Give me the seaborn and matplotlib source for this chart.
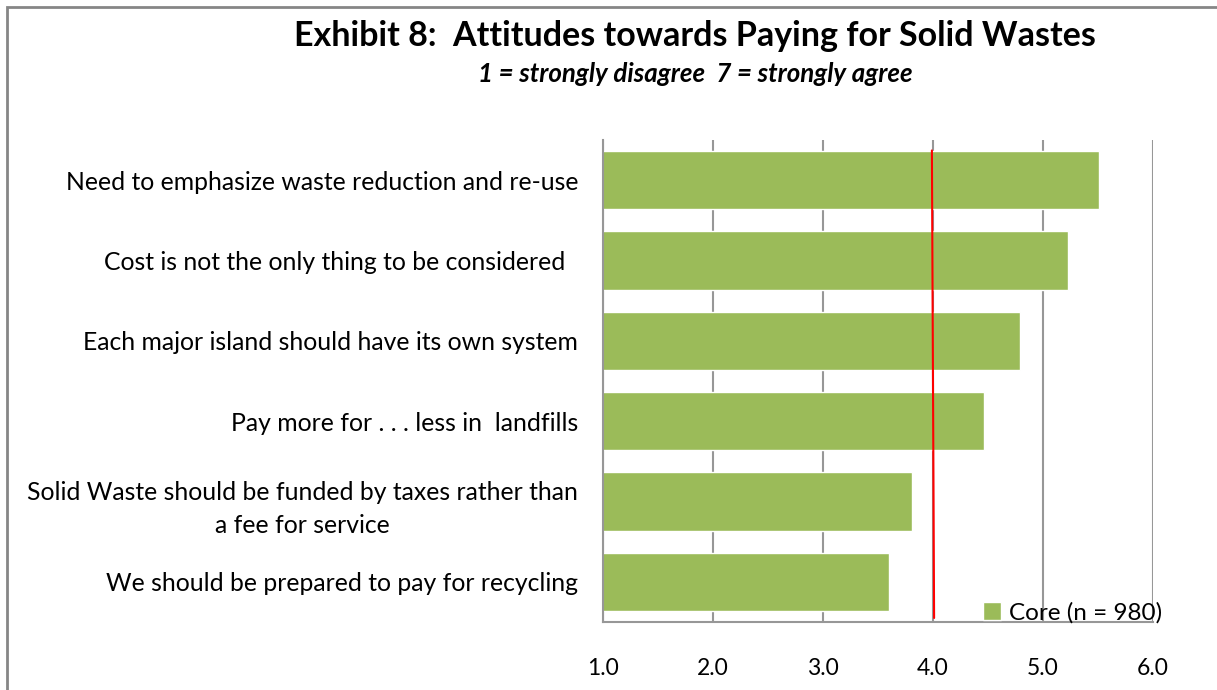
import matplotlib
matplotlib.use("Agg")
import matplotlib.pyplot as plt
import seaborn as sns
import pandas as pd
from matplotlib.patches import Rectangle

categories = [
    "Need to emphasize waste reduction and re-use",
    "Cost is not the only thing to be considered  ",
    "Each major island should have its own system",
    "Pay more for . . . less in  landfills",
    "Solid Waste should be funded by taxes rather than\na fee for service",
    "We should be prepared to pay for recycling",
]
values = [5.51, 5.23, 4.79, 4.46, 3.81, 3.60]
series_label = "Core (n = 980)"
reference_value = 4.0
x_ticks = [1.0, 2.0, 3.0, 4.0, 5.0, 6.0]
title = "Exhibit 8:  Attitudes towards Paying for Solid Wastes"
subtitle = "1 = strongly disagree  7 = strongly agree"

sns.set_theme(style="white")
plt.rcParams["font.family"] = ["Lato", "DejaVu Sans"]
plt.rcParams["text.color"] = "black"

df = pd.DataFrame({"item": categories, "score": values})

fig = plt.figure(figsize=(12.17, 6.9), dpi=100)
ax = fig.add_axes([603/1217, 1-622/690, (1153-603)/1217, (622-140)/690])

sns.barplot(data=df, x="score", y="item", color="#9BBB59", saturation=1,
            width=0.73, ax=ax, label=series_label, orient="h")

ax.set_xlim(1, 6)
ax.set_ylim(5.5, -0.5)
ax.set_xticks(x_ticks)
ax.set_xticklabels([f"{t:.1f}" for t in x_ticks])
ax.xaxis.grid(True, color="#979797", linewidth=1.5)
ax.set_axisbelow(True)
ax.set_xlabel("")
ax.set_ylabel("")
ax.tick_params(axis="x", length=0, pad=26, labelsize=16.5, colors="black")
ax.tick_params(axis="y", length=0, pad=18, labelsize=17.8, colors="black")
for lab in ax.get_yticklabels():
    lab.set_multialignment("center")
    lab.set_linespacing(1.55)

for s in ["top", "right"]:
    ax.spines[s].set_visible(False)
for s in ["left", "bottom"]:
    ax.spines[s].set_color("#979797")
    ax.spines[s].set_linewidth(1.5)

ax.plot([reference_value - 0.01, reference_value + 0.01], [-0.37, 5.45],
        color="#FF0000", linewidth=1.5, zorder=5)

leg = ax.legend(loc="center right", bbox_to_anchor=(1.035, 0.019), frameon=False,
                fontsize=17.5, handlelength=0.75, handleheight=0.75,
                handletextpad=0.35, borderaxespad=0)

fig.text(695/1217, 1-36/690, title, ha="center", va="center",
         fontsize=24.5, fontweight="bold")
fig.text(695/1217, 1-74/690, subtitle, ha="center", va="center",
         fontsize=18.6, fontweight="bold", style="italic")

fig.patches.append(Rectangle((7/1217, -0.05), 1.1, 1.05 - 7/690,
                             transform=fig.transFigure, fill=False,
                             edgecolor="#868686", linewidth=2))

fig.savefig("out.png", dpi=100)
